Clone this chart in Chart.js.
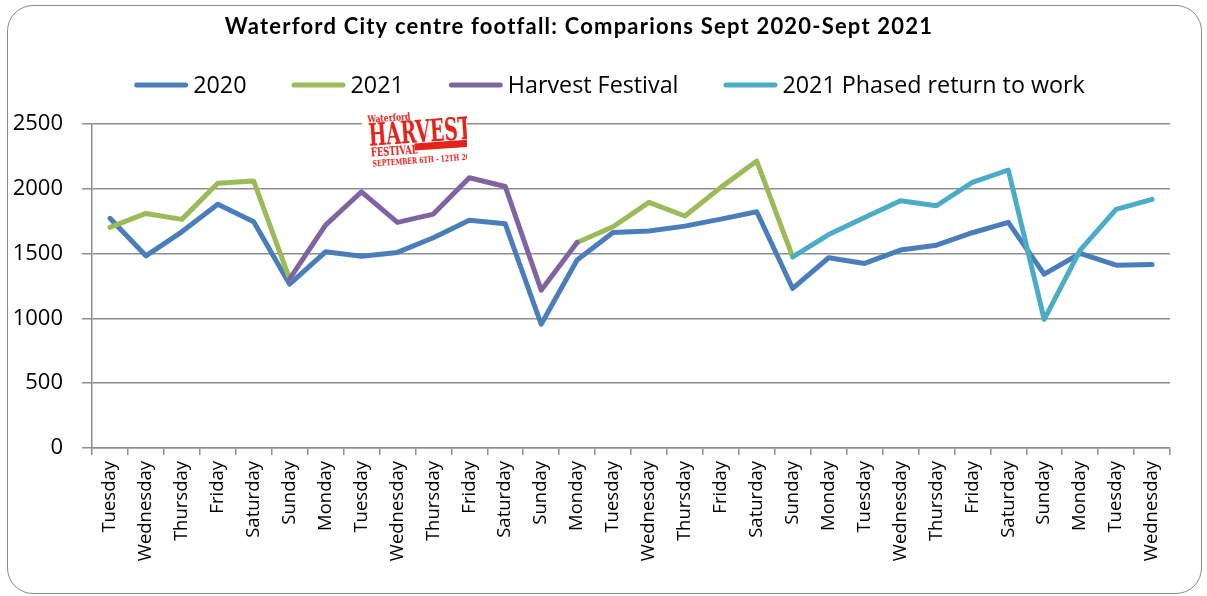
<!DOCTYPE html>
<html><head><meta charset="utf-8">
<script src="https://cdn.jsdelivr.net/npm/chart.js@4"></script>
<style>
html,body{margin:0;padding:0;background:#fff;}
body{width:1207px;height:596px;position:relative;overflow:hidden;}
canvas{position:absolute;left:0;top:0;}
#frame{position:absolute;left:7px;top:5px;width:1195px;height:589px;border:1.5px solid #8a8a8a;border-radius:26px;box-sizing:border-box;pointer-events:none;}
#logo{position:absolute;left:362px;top:108px;width:105px;height:60px;background:#fff;overflow:hidden;color:#e3241b;font-family:"DejaVu Serif Condensed","DejaVu Serif",serif;font-weight:bold;}
#logo .in{position:absolute;left:0;top:0;width:120px;height:60px;transform:rotate(-4deg);transform-origin:50% 50%;}
#logo .in div{position:absolute;white-space:nowrap;line-height:1;transform-origin:0 0;}
#logo .l1{left:7px;top:3px;font-size:10px;transform:scaleX(.85);}
#logo .l2{left:7px;top:8px;font-size:31px;transform:scaleX(.67);}
#logo .l3{left:8px;top:35px;font-size:12px;transform:scaleX(.78);}
#logo .bar{left:52px;top:35px;width:70px;height:7px;background:#e3241b;}
#logo .l4{left:9px;top:48px;font-size:8.5px;transform:scaleX(.8);}
</style></head>
<body>
<canvas id="c" width="1207" height="596"></canvas>
<div id="frame"></div>
<div id="logo"><div class="in">
  <div class="l1">Waterford</div>
  <div class="l2">HARVEST</div>
  <div class="l3">FESTIVAL</div><div class="bar"></div>
  <div class="l4">SEPTEMBER 6TH - 12TH 2021</div>
</div></div>
<script>
const chartTitle = 'Waterford City centre footfall: Comparions Sept 2020-Sept 2021';
const categories = ['Tuesday','Wednesday','Thursday','Friday','Saturday','Sunday','Monday',
  'Tuesday','Wednesday','Thursday','Friday','Saturday','Sunday','Monday',
  'Tuesday','Wednesday','Thursday','Friday','Saturday','Sunday','Monday',
  'Tuesday','Wednesday','Thursday','Friday','Saturday','Sunday','Monday','Tuesday','Wednesday'];
const seriesNames = ['2020','2021','Harvest Festival','2021 Phased return to work'];
const footfall2020 = [1772,1483,1668,1880,1745,1264,1514,1480,1509,1622,1758,1730,955,1450,
  1663,1674,1712,1766,1823,1231,1468,1424,1527,1565,1661,1741,1341,1501,1411,1416];
const footfall2021 = [1702,1810,1764,2042,2060,1305,null,null,null,null,null,null,null,
  1586,1707,1895,1790,2011,2214,1475,null,null,null,null,null,null,null,null,null,null];
const harvestFestival = [null,null,null,null,null,1305,1720,1977,1741,1805,2085,2018,1218,1586,
  null,null,null,null,null,null,null,null,null,null,null,null,null,null,null,null];
const phasedReturn = [null,null,null,null,null,null,null,null,null,null,null,null,null,null,null,null,null,null,null,
  1475,1647,1779,1908,1869,2050,2145,992,1527,1841,1918];
const yTicks = [0,500,1000,1500,2000,2500];
const colors = ['#4a7ebb','#9bbb59','#8064a2','#4bacc6'];

const headerPlugin = {
  id:'header',
  afterDraw(chart){
    const ctx = chart.ctx; ctx.save();
    // title
    ctx.font = 'bold 22px Lato';
    ctx.letterSpacing = '1.2px';
    ctx.fillStyle = '#000'; ctx.textAlign = 'center'; ctx.textBaseline = 'middle';
    ctx.fillText(chartTitle, 579, 27);
    ctx.letterSpacing = '0px';
    // legend
    ctx.font = '23.3px "Open Sans"';
    const sw = 54, gap = 5, spacing = 45, y = 85;
    const items = chart.data.datasets.map(d => ({text:d.label, color:d.borderColor, w:ctx.measureText(d.label).width}));
    const total = items.reduce((s,it)=>s+sw+gap+it.w,0) + spacing*(items.length-1);
    let x = 609.5 - total/2;
    ctx.textAlign = 'left';
    items.forEach(it => {
      ctx.strokeStyle = it.color; ctx.lineWidth = 5; ctx.lineCap = 'round';
      ctx.beginPath(); ctx.moveTo(x+2.5,y); ctx.lineTo(x+sw-2.5,y); ctx.stroke();
      ctx.fillStyle = '#000';
      ctx.fillText(it.text, x+sw+gap, y+1);
      x += sw+gap+it.w+spacing;
    });
    ctx.restore();
  }
};

function make(){
  const dsData = [footfall2020, footfall2021, harvestFestival, phasedReturn];
  const orders = [3,2,1,0];
  new Chart(document.getElementById('c'), {
    type:'line',
    data:{
      labels:categories,
      datasets: dsData.map((d,i)=>({
        label:seriesNames[i], data:d, borderColor:colors[i], backgroundColor:colors[i],
        borderWidth:5, pointRadius:0, pointHoverRadius:0, tension:0, spanGaps:false,
        borderCapStyle:'round', borderJoinStyle:'round', fill:false, order:orders[i]
      }))
    },
    plugins:[headerPlugin],
    options:{
      responsive:false, animation:false, devicePixelRatio:1,
      layout:{padding:{left:0,right:37,top:124,bottom:0}},
      plugins:{
        legend:{display:false}, tooltip:{enabled:false}, title:{display:false}
      },
      scales:{
        x:{
          type:'category', offset:true,
          grid:{display:true, offset:true, drawOnChartArea:false, drawTicks:true, tickLength:7, color:'#8e8e8e', lineWidth:1.5},
          border:{display:true, color:'#8e8e8e', width:1.5},
          ticks:{autoSkip:false, maxRotation:90, minRotation:90, padding:6, color:'#000', font:{family:'"Open Sans"', size:18.5}},
          afterFit:s=>{s.height = 148;}
        },
        y:{
          min:0, max:2500,
          afterBuildTicks:s=>{s.ticks = yTicks.map(v=>({value:v}));},
          grid:{color:'#8e8e8e', lineWidth:1.5, drawTicks:true, tickLength:10},
          border:{display:true, color:'#8e8e8e', width:1.5},
          ticks:{padding:19, color:'#000', font:{family:'"Open Sans"', size:22}, callback:v=>String(v)},
          afterFit:s=>{s.width = 92;}
        }
      }
    }
  });
}
Promise.all([
  document.fonts.load('23.3px "Open Sans"'),
  document.fonts.load('18.5px "Open Sans"'),
  document.fonts.load('bold 22px Lato')
]).then(make, make);
</script>
</body></html>
